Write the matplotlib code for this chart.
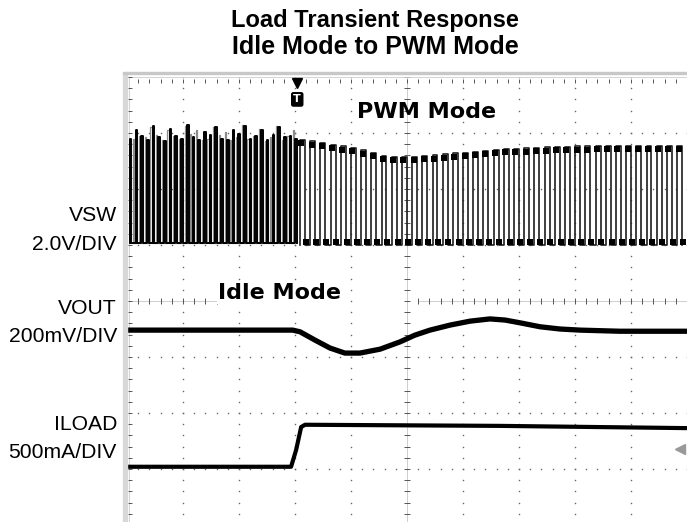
import numpy as np
import matplotlib
matplotlib.use("Agg")
import matplotlib.pyplot as plt

W, H = 687, 522
# ---- data (scope divisions; x: 0..10 div, y: -4..4 div) ----
# VSW switching node: high-level envelope
vsw_env_x = [0.0, 3.04, 3.21, 4.04, 4.64, 5.05, 5.77, 6.66, 7.55, 8.45, 9.64, 10.0]
vsw_env_hi = [2.88, 2.88, 2.86, 2.73, 2.57, 2.57, 2.63, 2.71, 2.75, 2.77, 2.77, 2.77]
vsw_low = [1.03, 1.0]            # idle, PWM low level
vsw_trigger_x = 3.04             # idle -> PWM transition
vsw_period = [0.102, 0.182]      # idle burst spacing, PWM period (div)
# idle-mode pulse tops (div), left to right
idle_tops = [2.90, 3.05, 2.95, 2.88, 3.12, 2.92, 2.86, 3.08, 2.95, 2.90, 3.15, 2.93,
             2.88, 3.02, 2.96, 3.10, 2.90, 2.87, 3.05, 2.98, 3.13, 2.90, 2.95, 3.06,
             2.88, 2.97, 3.10, 2.92, 2.95, 2.90]

# VOUT (200mV/div)
vout_x = [0.0, 2.96, 3.09, 3.36, 3.625, 3.89, 4.16, 4.52, 4.875, 5.14, 5.41, 5.77,
          6.125, 6.48, 6.75, 7.02, 7.375, 7.73, 8.09, 8.80, 10.0]
vout_y = [-0.52, -0.52, -0.55, -0.70, -0.84, -0.93, -0.93, -0.86, -0.73, -0.61, -0.52, -0.43,
          -0.36, -0.32, -0.34, -0.39, -0.46, -0.50, -0.52, -0.54, -0.54]

# ILOAD (500mA/div)
iload_x = [0.0, 2.93, 3.02, 3.11, 3.18, 6.66, 10.0]
iload_y = [-2.96, -2.96, -2.66, -2.25, -2.21, -2.23, -2.27]

labels = [("VSW", 216), ("2.0V/DIV", 244), ("VOUT", 309), ("200mV/DIV", 337),
          ("ILOAD", 425), ("500mA/DIV", 453)]

fig = plt.figure(figsize=(W / 100, H / 100), dpi=100)
fig.patch.set_facecolor("white")
ax = fig.add_axes([127 / W, (H - 525) / H, 560 / W, 448 / H])
ax.set_xlim(0, 10)
ax.set_ylim(-4, 4)
ax.axis("off")

# ---- screen decorations ----
fig.patches.append(plt.Rectangle((123 / W, 0), 4 / W, (H - 73) / H, transform=fig.transFigure,
                                 color="#d8d8d8", zorder=0))
fig.patches.append(plt.Rectangle((123 / W, (H - 74) / H), 1 - 123 / W, 2 / H, transform=fig.transFigure,
                                 color="#c8c8c8", zorder=0))
minor = np.arange(0, 10.01, 0.2)
minor_y = np.arange(-4, 4.01, 0.2)
for gx in range(1, 10):
    if gx == 5:
        continue
    ax.plot(np.full_like(minor_y, gx), minor_y, ls="none", marker="s", ms=1.0, color="#666", mew=0)
for gy in range(-3, 4):
    if gy == 0:
        continue
    ax.plot(minor, np.full_like(minor, gy), ls="none", marker="s", ms=1.0, color="#666", mew=0)
# center axes with ticks
ax.plot([5, 5], [-4, 4], color="#bbb", lw=0.5)
ax.plot(np.full_like(minor_y, 5), minor_y, ls="none", marker="_", ms=5, color="#555", mew=0.7)
for seg in [(0, 1.625), (5.2, 10)]:
    xs = minor[(minor >= seg[0]) & (minor <= seg[1])]
    ax.plot(seg, [0, 0], color="#bbb", lw=0.5)
    ax.plot(xs, np.zeros_like(xs), ls="none", marker="|", ms=5, color="#555", mew=0.7)
# border ticks
ax.plot([0, 10], [4, 4], color="#ccc", lw=0.6)
ax.plot(minor, np.full_like(minor, 3.93), ls="none", marker="|", ms=3, color="#555", mew=0.7)
ax.plot([0.03, 0.03], [-4, 4], color="#ccc", lw=0.6)
ax.plot(np.full_like(minor_y, 0.06), minor_y, ls="none", marker="_", ms=3, color="#555", mew=0.7)

# ---- VSW trace ----
def square(x0, x1, period, duty, phase, lo, tops=None):
    edges = np.arange(x0 + phase, x1, period)
    xs, ys = [], []
    for k, e in enumerate(edges):
        hi = np.interp(e, vsw_env_x, vsw_env_hi) if tops is None else tops[k % len(tops)]
        w = period * duty
        xs += [e, e, e + w, e + w]
        ys += [lo, hi, hi, lo]
    return np.array(xs), np.array(ys)

xg, yg = square(0.05, vsw_trigger_x, vsw_period[0], 0.2, vsw_period[0] * 0.6, vsw_low[0],
                tops=idle_tops[::-1])
ax.plot(xg, yg, color="#8c8c8c", lw=0.9, zorder=3)
xb, yb = square(0.05, vsw_trigger_x + 0.05, vsw_period[0], 0.28, 0.0, vsw_low[0], tops=idle_tops)
ax.plot(xb, yb, color="black", lw=1.4, zorder=4)
xp, yp = square(vsw_trigger_x + 0.05, 10.0, vsw_period[1], 0.48, 0.0, vsw_low[1])
ax.plot(xp, yp, color="#1e1e1e", lw=1.2, zorder=4)
# ringing blobs at the corners
ax.plot(xp[1::4] + 0.025, yp[1::4] - 0.06, ls="none", marker="s", ms=3.8, color="black", mew=0, zorder=5)
ax.plot(xp[3::4] + 0.015, yp[3::4] + 0.06, ls="none", marker="s", ms=3.8, color="black", mew=0, zorder=5)

# ---- VOUT / ILOAD ----
ax.plot(vout_x, vout_y, color="black", lw=3.8, solid_capstyle="butt", zorder=5)
ax.plot(iload_x, iload_y, color="black", lw=3.0, solid_capstyle="butt", zorder=5)

# markers
ax.plot([vsw_trigger_x], [3.9], marker="v", ms=7, color="black", zorder=6)
ax.text(vsw_trigger_x, 3.6, "T", ha="center", va="center", color="white", fontsize=8,
        fontweight="bold", zorder=7,
        bbox=dict(boxstyle="round,pad=0.15", fc="black", ec="black"))
ax.plot([9.88], [-2.64], marker="<", ms=7, color="#999", zorder=6)

# ---- texts ----
fig.text(375 / W, 1 - 20 / H, "Load Transient Response", ha="center", va="center",
         fontsize=17, fontweight="bold", family="Liberation Sans")
fig.text(375 / W, 1 - 47 / H, "Idle Mode to PWM Mode", ha="center", va="center",
         fontsize=18, fontweight="bold", family="Liberation Sans")
for t, y in labels:
    fig.text(117 / W, 1 - y / H, t, ha="right", va="center", fontsize=15.2, family="Liberation Sans")
fig.text(357 / W, 1 - 112 / H, "PWM Mode", ha="left", va="center", fontsize=16,
         fontweight="bold", family="DejaVu Sans")
fig.text(218 / W, 1 - 293 / H, "Idle Mode", ha="left", va="center", fontsize=16,
         fontweight="bold", family="DejaVu Sans",
         bbox=dict(fc="white", ec="none", pad=1))

fig.savefig("out.png", dpi=100, facecolor="white")
